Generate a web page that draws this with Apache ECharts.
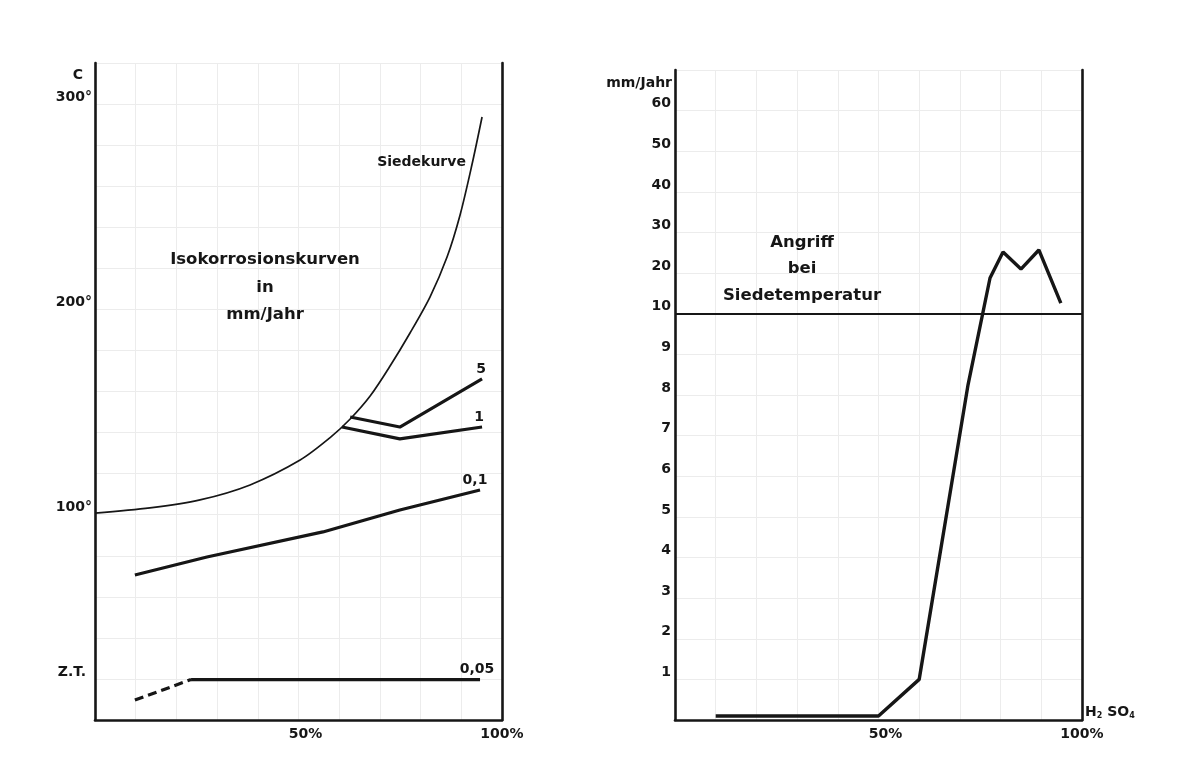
<!DOCTYPE html>
<html><head><meta charset="utf-8">
<script src="https://cdn.jsdelivr.net/npm/echarts@6/dist/echarts.min.js"></script>
<style>html,body{margin:0;background:#fff}#c{width:1178px;height:758px}</style>
</head><body><div id="c"></div>
<script>
// ---- Left panel: isocorrosion curves (x: % H2SO4, y: temperature °C) ----
const siedeX = [0, 13.5, 25.8, 38.1, 50.4, 57.7, 62.7, 67.6, 72.5, 77.4, 82.3, 86.5, 89.7, 92.6, 95.1];
const siedeT = [100.8, 103.3, 107.2, 114.5, 126.6, 137.4, 146.6, 157.8, 172.4, 188.5, 206.0, 225.5, 246.0, 270.3, 293.7];
const iso5X = [62.7, 74.9, 95.1];
const iso5T = [147.6, 142.7, 166.1];
const iso1X = [60.7, 74.9, 95.1];
const iso1T = [142.7, 136.9, 142.7];
const iso01X = [9.8, 27.5, 56.0, 74.9, 94.6];
const iso01T = [70.6, 79.4, 91.6, 102.3, 112.0];
const iso005DashX = [9.8, 23.6];
const iso005DashT = [9.7, 19.7];
const iso005X = [23.6, 94.6];
const iso005T = [19.7, 19.7];
const leftYTickLabels = {20: 'Z.T.', 100: '100°', 200: '200°', 300: '300°'};
const xTickLabels = {50: '50%', 100: '100%'};

// ---- Right panel: attack at boiling temperature (mm/Jahr), broken scale above 10 ----
const attackX = [10, 50, 60, 72, 77.4, 80.6, 85, 89.4, 94.8];
const attackV = [0.1, 0.1, 1.0, 8.25, 18.8, 25.2, 21.0, 25.7, 12.6];
const rightYTicks = [1, 2, 3, 4, 5, 6, 7, 8, 9, 10, 20, 30, 40, 50, 60];
const breakValue = 10;

const FONT = 'DejaVu Sans';
const INK = '#161616';
const PAPER = '#ececec';

function toDisplay(v) { return v <= breakValue ? v : breakValue + (v - breakValue) / 10; }
function fromDisplay(d) { return d <= breakValue ? d : breakValue + (d - breakValue) * 10; }
function pts(xs, ys, endText, offset) {
  return xs.map((x, i) => {
    if (endText && i === xs.length - 1) {
      return {value: [x, ys[i]], label: {show: true, formatter: endText, position: 'top', distance: 3, offset: offset || [0, 0]}};
    }
    return [x, ys[i]];
  });
}

const labelFont = {fontFamily: FONT, fontWeight: 'bold', fontSize: 14, color: INK};
const frame = {show: true, onZero: false, lineStyle: {color: INK, width: 2.6}};
const paperLines = {show: true, lineStyle: {color: PAPER, width: 1}};
const xAxisLabel = {
  show: true, margin: 7, interval: 0, ...labelFont,
  formatter: v => v === 50 ? '{a|' + xTickLabels[50] + '}' : (v === 100 ? '{b|' + xTickLabels[100] + '}' : ''),
  rich: {a: {...labelFont, padding: [0, 0, 0, 14]}, b: {...labelFont}}
};

const seriesBase = {type: 'line', symbol: 'circle', symbolSize: 0, showSymbol: true, silent: true,
  emphasis: {disabled: true}, label: {...labelFont}};

const chart = echarts.init(document.getElementById('c'));
chart.setOption({
  animation: false,
  backgroundColor: '#ffffff',
  grid: [
    {left: 95, right: 1178 - 502, top: 63, bottom: 38, outerBoundsMode: 'none'},
    {left: 675, right: 1178 - 1082, top: 70, bottom: 38, outerBoundsMode: 'none'}
  ],
  xAxis: [
    {type: 'value', gridIndex: 0, min: 0, max: 100, interval: 10, axisLine: frame,
     axisTick: {show: false}, splitLine: paperLines, axisLabel: xAxisLabel},
    {type: 'value', gridIndex: 1, min: 0, max: 100, interval: 10, axisLine: frame,
     axisTick: {show: false}, splitLine: paperLines, axisLabel: xAxisLabel,
     name: 'H{s|2} SO{s|4}', nameLocation: 'end', nameGap: 3,
     nameTextStyle: {...labelFont, align: 'left', verticalAlign: 'bottom',
       rich: {s: {fontFamily: FONT, fontWeight: 'bold', fontSize: 8, color: INK, verticalAlign: 'bottom', padding: [7, 0, 0, 0]}}}}
  ],
  yAxis: [
    {type: 'value', gridIndex: 0, min: 0, max: 320, interval: 20, axisLine: frame,
     axisTick: {show: false}, splitLine: paperLines,
     axisLabel: {show: true, interval: 0, margin: 3, verticalAlign: 'bottom', ...labelFont,
       formatter: v => v === 20 ? '{z|' + leftYTickLabels[20] + '}' : (leftYTickLabels[v] || ''),
       rich: {z: {...labelFont, padding: [0, 6, 0, 0]}}},
     name: 'C', nameLocation: 'end', nameGap: -12,
     nameTextStyle: {...labelFont, align: 'right', verticalAlign: 'middle', padding: [0, 12, 0, 0]}},
    {type: 'value', gridIndex: 0, position: 'right', min: 0, max: 1, axisLine: frame,
     axisTick: {show: false}, splitLine: {show: false}, axisLabel: {show: false}},
    {type: 'value', gridIndex: 1, min: 0, max: 16, interval: 1, axisLine: frame,
     axisTick: {show: false}, splitLine: paperLines,
     axisLabel: {show: true, interval: 0, margin: 4, verticalAlign: 'bottom', ...labelFont,
       formatter: d => { const r = Math.round(fromDisplay(d)); return rightYTicks.indexOf(r) >= 0 ? String(r) : ''; }},
     name: 'mm/Jahr', nameLocation: 'end', nameGap: -13,
     nameTextStyle: {...labelFont, align: 'right', verticalAlign: 'middle', padding: [0, 3, 0, 0]}},
    {type: 'value', gridIndex: 1, position: 'right', min: 0, max: 1, axisLine: frame,
     axisTick: {show: false}, splitLine: {show: false}, axisLabel: {show: false}}
  ],
  graphic: [
    {type: 'text', x: 265, y: 246, silent: true, z: 100,
     style: {text: 'Isokorrosionskurven\nin\nmm/Jahr', textAlign: 'center', textVerticalAlign: 'top',
       fontFamily: FONT, fontWeight: 'bold', fontSize: 16.5, lineHeight: 27.5, fill: INK,
       backgroundColor: 'transparent'}},
    {type: 'text', x: 802, y: 229, silent: true, z: 100,
     style: {text: 'Angriff\nbei\nSiedetemperatur', textAlign: 'center', textVerticalAlign: 'top',
       fontFamily: FONT, fontWeight: 'bold', fontSize: 16.5, lineHeight: 26.5, fill: INK}}
  ],
  series: [
    {...seriesBase, name: 'Siedekurve', xAxisIndex: 0, yAxisIndex: 0, smooth: 0.3,
     lineStyle: {color: INK, width: 1.7},
     data: siedeX.map((x, i) => i === 13
       ? {value: [x, siedeT[i]], label: {show: true, formatter: 'Siedekurve', position: 'left', distance: 6, offset: [0, -3]}}
       : [x, siedeT[i]])},
    {...seriesBase, name: '5', xAxisIndex: 0, yAxisIndex: 0, lineStyle: {color: INK, width: 3.2},
     data: pts(iso5X, iso5T, '5', [-1, 0])},
    {...seriesBase, name: '1', xAxisIndex: 0, yAxisIndex: 0, lineStyle: {color: INK, width: 3.2},
     data: pts(iso1X, iso1T, '1', [-3, 0])},
    {...seriesBase, name: '0,1', xAxisIndex: 0, yAxisIndex: 0, lineStyle: {color: INK, width: 3.2},
     data: pts(iso01X, iso01T, '0,1', [-5, 0])},
    {...seriesBase, name: '0,05 extrapoliert', xAxisIndex: 0, yAxisIndex: 0,
     lineStyle: {color: INK, width: 3.2, type: [9, 5]}, data: pts(iso005DashX, iso005DashT)},
    {...seriesBase, name: '0,05', xAxisIndex: 0, yAxisIndex: 0, lineStyle: {color: INK, width: 3.2},
     data: pts(iso005X, iso005T, '0,05', [-3, 0])},
    {...seriesBase, name: 'Angriff', xAxisIndex: 1, yAxisIndex: 2, lineStyle: {color: INK, width: 3.4},
     data: attackX.map((x, i) => [x, toDisplay(attackV[i])]),
     markLine: {silent: true, symbol: ['none', 'none'], label: {show: false},
       lineStyle: {color: INK, width: 2, type: 'solid'}, emphasis: {disabled: true},
       data: [{yAxis: toDisplay(breakValue)}]}}
  ]
});
</script></body></html>
